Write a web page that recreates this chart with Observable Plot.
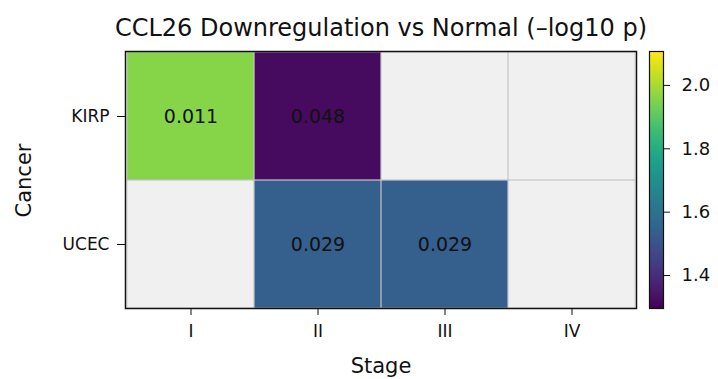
<!DOCTYPE html>
<html>
<head>
<meta charset="utf-8">
<script src="https://cdn.jsdelivr.net/npm/d3@7"></script>
<script src="https://cdn.jsdelivr.net/npm/@observablehq/plot@0.6"></script>
<style>
  html, body { margin: 0; padding: 0; background: #fff; }
  #chart { position: relative; width: 718px; height: 379px; font-family: "DejaVu Sans", sans-serif; color: #111; }
  #chart > * { position: absolute; }
  .title { left: 0; width: 762px; top: 16px; text-align: center; font-size: 24px; line-height: 24px; white-space: nowrap; }
  .xlabel { left: 0; width: 762px; top: 356px; text-align: center; font-size: 21px; line-height: 21px; }
  .ylabel { left: -26px; width: 100px; top: 170px; text-align: center; font-size: 21px; line-height: 21px; transform: rotate(-90deg); }
</style>
</head>
<body>
<div id="chart"></div>
<script>
// Stages and cancers on the heatmap axes
const stages = ["I", "II", "III", "IV"];
const cancers = ["KIRP", "UCEC"];

// Downregulation p-values per cancer/stage (only significant cells)
const cellCancer = ["KIRP", "KIRP", "UCEC", "UCEC"];
const cellStage = ["I", "II", "II", "III"];
const cellP = [0.011, 0.048, 0.029, 0.029];

// Colour bar limits (−log10 p) and its ticks
const colorMin = 1.296;
const colorMax = 2.107;
const colorTicks = [1.4, 1.6, 1.8, 2.0];

const cells = cellP.map((p, i) => ({cancer: cellCancer[i], stage: cellStage[i], p, score: -Math.log10(p)}));
const grid = cancers.flatMap(c => stages.map(s => ({cancer: c, stage: s})));

const colorScale = {type: "linear", scheme: "viridis", domain: [colorMin, colorMax]};
const font = {fontFamily: "DejaVu Sans, sans-serif", fontSize: "17px", color: "#111", background: "transparent"};

const heat = Plot.plot({
  width: 718, height: 379,
  marginLeft: 125, marginRight: 82, marginTop: 51, marginBottom: 71,
  style: font,
  x: {type: "band", domain: stages, padding: 0, label: null, tickSize: 7, tickPadding: 9},
  y: {type: "band", domain: cancers, padding: 0, label: null, tickSize: 8, tickPadding: 8},
  color: colorScale,
  marks: [
    Plot.cell(grid, {x: "stage", y: "cancer", fill: "#f0f0f0", inset: 0}),
    Plot.cell(cells, {x: "stage", y: "cancer", fill: "score", inset: 0}),
    Plot.cell(grid, {x: "stage", y: "cancer", fill: "none", stroke: "#c4c4c4", strokeOpacity: 0.75, strokeWidth: 1, inset: 0}),
    Plot.text(cells, {x: "stage", y: "cancer", text: d => d.p.toFixed(3), fill: "#111", fontSize: 19}),
    Plot.frame({stroke: "#111", strokeWidth: 1.5})
  ]
});

const bar = Plot.plot({
  width: 98, height: 379,
  marginLeft: 29, marginRight: 55, marginTop: 51, marginBottom: 71,
  style: {...font, fontSize: "18px"},
  x: {domain: [0, 1], axis: null},
  y: {domain: [colorMin, colorMax], axis: "right", ticks: colorTicks, tickFormat: ".1f", tickSize: 6, tickPadding: 12, label: null},
  color: colorScale,
  marks: [
    Plot.raster({fill: (x, y) => y, x1: 0, x2: 1, y1: colorMin, y2: colorMax, width: 1, height: 256, imageRendering: "auto"}),
    Plot.frame({stroke: "#111", strokeWidth: 1.2})
  ]
});

const chart = document.getElementById("chart");
heat.style.left = "0px"; heat.style.top = "0px";
bar.style.left = "620px"; bar.style.top = "0px";
chart.append(heat, bar);

const title = document.createElement("div");
title.className = "title";
title.textContent = "CCL26 Downregulation vs Normal (–log10 p)";
const xl = document.createElement("div");
xl.className = "xlabel";
xl.textContent = "Stage";
const yl = document.createElement("div");
yl.className = "ylabel";
yl.textContent = "Cancer";
chart.append(title, xl, yl);
</script>
</body>
</html>
